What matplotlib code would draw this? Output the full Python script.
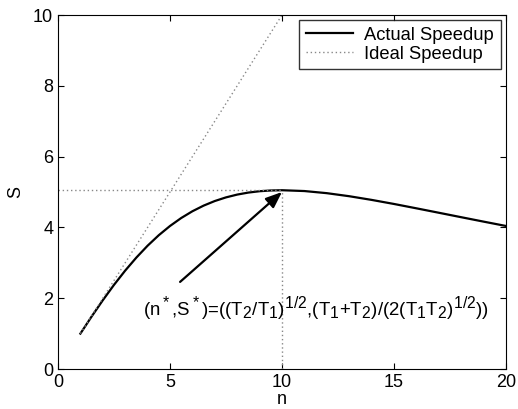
import matplotlib
matplotlib.use("Agg")
import matplotlib.pyplot as plt
import matplotlib._mathtext as _mt

_mt.SHRINK_FACTOR = 0.85

plt.rcParams['font.family'] = ['Liberation Sans', 'DejaVu Sans']
plt.rcParams['mathtext.fontset'] = 'custom'
plt.rcParams['mathtext.rm'] = 'Liberation Sans'
plt.rcParams['mathtext.it'] = 'Liberation Sans'

n_actual = [1, 1.5, 2, 2.5, 3, 3.5, 4, 4.5, 5, 5.5, 6, 6.5, 7, 7.5, 8, 8.5, 9, 9.5,
            10, 11, 12, 13, 14, 15, 16, 17, 18, 19, 20]
s_actual = [1.000, 1.482, 1.942, 2.377, 2.780, 3.149, 3.483, 3.780, 4.040, 4.265,
            4.456, 4.615, 4.745, 4.848, 4.927, 4.984, 5.022, 5.043, 5.050, 5.027,
            4.967, 4.881, 4.777, 4.662, 4.539, 4.414, 4.288, 4.163, 4.040]
n_ideal = [1, 10]
s_ideal = [1, 10]
n_star = 10
s_star = 5.05

fig = plt.figure(figsize=(5.18, 4.09), dpi=100)
ax = fig.add_axes([58/518, 1 - 369/409, (506-58)/518, (369-15)/409])

ax.plot(n_actual, s_actual, color='black', lw=1.6, label='Actual Speedup')
ax.plot(n_ideal, s_ideal, color='#888888', lw=1.0, ls=(0, (1, 2)), label='Ideal Speedup')
ax.plot([0, n_star], [s_star, s_star], color='#888888', lw=1.0, ls=(0, (1, 2)))
ax.plot([n_star, n_star], [0, s_star], color='#888888', lw=1.0, ls=(0, (1, 2)))

ax.annotate('', xy=(10.0, 5.0), xytext=(5.45, 2.46),
            arrowprops=dict(arrowstyle='-|>,head_length=0.7,head_width=0.28',
                            color='black', lw=1.6,
                            mutation_scale=14, shrinkA=0, shrinkB=0))
ax.text(3.78, 1.53,
        r'(n$^*$,S$^*$)=((T$_2$/T$_1$)$^{1/2}$,(T$_1$+T$_2$)/(2(T$_1$T$_2$)$^{1/2}$))',
        fontsize=13.4, va='baseline', ha='left')

ax.set_xlim(0, 20)
ax.set_ylim(0, 10)
ax.set_xticks([0, 5, 10, 15, 20])
ax.set_yticks([0, 2, 4, 6, 8, 10])
ax.tick_params(direction='in', top=True, right=True, labelsize=13, length=4)
ax.set_xlabel('n', fontsize=13, labelpad=0)
ax.set_ylabel('S', fontsize=13, labelpad=6)

leg = ax.legend(loc='upper right', fontsize=13.2, frameon=True, fancybox=False,
                edgecolor='black', borderpad=0.35, handlelength=2.6,
                handletextpad=0.6, labelspacing=0.1, borderaxespad=0.3)
leg.get_frame().set_linewidth(1.0)

fig.savefig('out.png', dpi=100)
